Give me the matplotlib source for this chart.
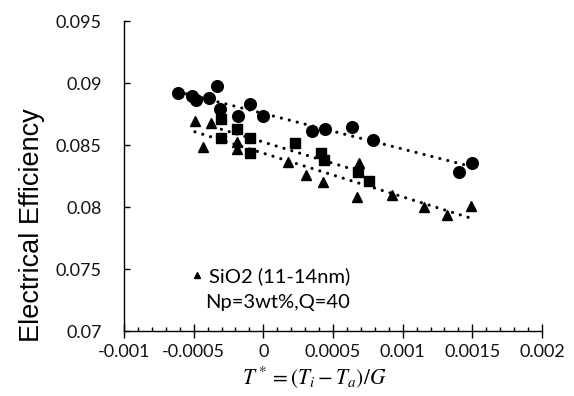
import numpy as np
import matplotlib
matplotlib.use("Agg")
import matplotlib.pyplot as plt
from matplotlib.ticker import MultipleLocator, FuncFormatter

# reduced temperature T* and electrical efficiency, three runs
circle_x = [-0.000610, -0.000514, -0.000483, -0.000390, -0.000335, -0.000311, -0.000184,
            -0.000096, 0.000000, 0.000347, 0.000442, 0.000634, 0.000784, 0.001405, 0.001499]
circle_y = [0.08917, 0.08898, 0.08863, 0.08877, 0.08976, 0.08788, 0.08734,
            0.08828, 0.08734, 0.08613, 0.08627, 0.08648, 0.08540, 0.08285, 0.08357]

square_x = [-0.000301, -0.000187, -0.000301, -0.000096, -0.000096, 0.000230,
            0.000411, 0.000435, 0.000681, 0.000758]
square_y = [0.08707, 0.08627, 0.08554, 0.08553, 0.08438, 0.08519,
            0.08438, 0.08379, 0.08285, 0.08212]

tri_x = [-0.000491, -0.000376, -0.000431, -0.000187, -0.000187, 0.000177, 0.000306,
         0.000429, 0.000690, 0.000675, 0.000923, 0.001150, 0.001315, 0.001493]
tri_y = [0.08690, 0.08678, 0.08484, 0.08524, 0.08464, 0.08365, 0.08258,
         0.08199, 0.08352, 0.08083, 0.08099, 0.08002, 0.07936, 0.08008]

x_ticks = [-0.001, -0.0005, 0, 0.0005, 0.001, 0.0015, 0.002]
y_ticks = [0.07, 0.075, 0.08, 0.085, 0.09, 0.095]

tick_font = "Lato"

fig = plt.figure(figsize=(5.74, 3.96), dpi=100)
ax = fig.add_axes([124 / 574, 65 / 396, 418 / 574, 310 / 396])


def trend(x, y):
    # linear trendline across the range of the data, like Excel
    k, b = np.polyfit(x, y, 1)
    xs = np.array([min(x), max(x)])
    ax.plot(xs, k * xs + b, color="black", lw=2.3, linestyle=(0, (0.01, 2.55)),
            dash_capstyle="round", zorder=2)


trend(circle_x, circle_y)
trend(square_x, square_y)
trend(tri_x, tri_y)

ax.plot(circle_x, circle_y, "o", color="black", ms=8.4, zorder=3)
ax.plot(square_x, square_y, "s", color="black", ms=7.6, zorder=3)
tri, = ax.plot(tri_x, tri_y, "^", color="black", ms=7.6, zorder=3)

ax.set_xlim(-0.001, 0.002)
ax.set_ylim(0.07, 0.095)
ax.set_xticks(x_ticks)
ax.set_yticks(y_ticks)
ax.xaxis.set_minor_locator(MultipleLocator(0.0001))


def fmt(v, pos):
    s = ("%.4f" % v).rstrip("0").rstrip(".")
    return "0" if s in ("-0", "0") else s


ax.xaxis.set_major_formatter(FuncFormatter(fmt))
ax.yaxis.set_major_formatter(FuncFormatter(fmt))

for side in ("top", "right"):
    ax.spines[side].set_visible(False)
for side in ("left", "bottom"):
    ax.spines[side].set_linewidth(1.0)

ax.tick_params(axis="x", which="major", direction="inout", length=9.4, width=1.0,
               pad=5, labelsize=13, labelcolor="#111111")
ax.tick_params(axis="x", which="minor", direction="in", length=3.2, width=1.0)
ax.tick_params(axis="y", which="major", direction="in", length=4.3, width=1.0,
               pad=16, labelsize=13, labelcolor="#111111")
for lab in ax.get_xticklabels() + ax.get_yticklabels():
    lab.set_fontfamily(tick_font)

fig.text(32 / 574, 1 - 225 / 396, "Electrical Efficiency", rotation=90,
         ha="center", va="center", fontsize=19.5, family="Liberation Sans")
fig.text(314 / 574, 1 - 377 / 396, r"$T^* = (T_i - T_a)/G$", ha="center", va="center",
         fontsize=15.5, math_fontfamily="stix")

ax.legend([tri], ["SiO2 (11-14nm)"], loc="center right", bbox_to_anchor=(0.541, 0.176),
          frameon=False, handlelength=0.4, handletextpad=0.4, markerscale=0.65,
          borderpad=0, borderaxespad=0, prop={"family": tick_font, "size": 14.5})
ax.text(0.541, 0.0935, "Np=3wt%,Q=40", transform=ax.transAxes, ha="right", va="center",
        family=tick_font, fontsize=14.5)

fig.savefig("out.png", dpi=100)
